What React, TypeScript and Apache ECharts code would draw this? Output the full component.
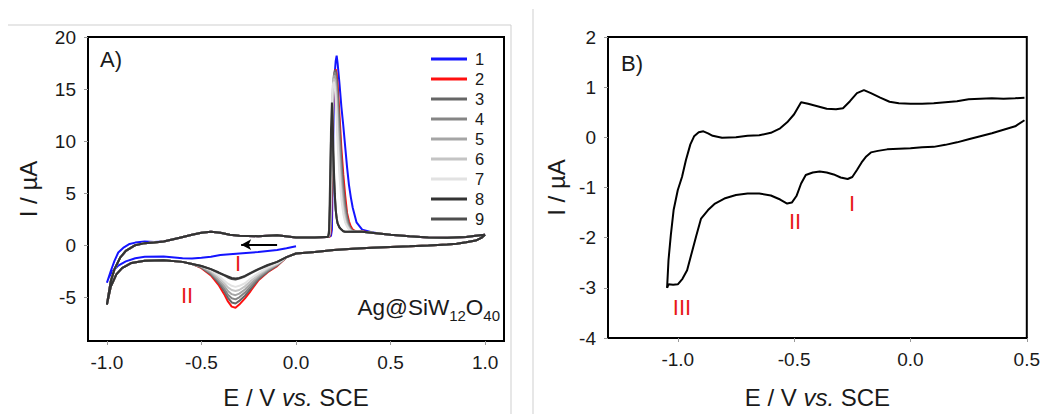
import React, { useEffect, useRef } from "react";
import * as echarts from "echarts";

const FONT = "'Liberation Sans', Arial, sans-serif";

// ---------- Panel A : cycles 1..9 ----------
const CYCLES = ["1", "2", "3", "4", "5", "6", "7", "8", "9"];
const CYCLE_COLORS = ["#1414ff", "#ff1010", "#666666", "#858585", "#a5a5a5", "#c4c4c4", "#e2e2e2", "#333333", "#4e4e4e"];

// common cathodic start (from +1.0 V going negative), cycles 2-9
const E_CATH_START = [1.0, 0.98, 0.95, 0.9, 0.85, 0.8, 0.7, 0.6, 0.5, 0.4, 0.3, 0.2, 0.1, 0.0, -0.05];
const I_CATH_START = [1.0, 0.7, 0.45, 0.28, 0.15, 0.07, -0.02, -0.1, -0.17, -0.25, -0.33, -0.45, -0.65, -0.8, -1.15];

// reduction peak region (cycle-dependent)
const E_RED = [-0.1, -0.15, -0.2, -0.24, -0.27, -0.3, -0.32, -0.34, -0.36, -0.38, -0.41, -0.45, -0.5];
const I_RED_2 = [-2.0, -2.6, -3.4, -4.4, -5.1, -5.7, -6.0, -5.9, -5.4, -4.7, -3.8, -2.9, -2.2];
const I_RED_3 = [-1.95, -2.55, -3.3, -4.2, -4.85, -5.35, -5.6, -5.5, -5.05, -4.4, -3.6, -2.8, -2.15];
const I_RED_4 = [-1.9, -2.45, -3.15, -3.95, -4.55, -5.0, -5.2, -5.1, -4.75, -4.15, -3.45, -2.7, -2.1];
const I_RED_5 = [-1.85, -2.35, -3.0, -3.7, -4.25, -4.65, -4.8, -4.7, -4.4, -3.9, -3.3, -2.6, -2.05];
const I_RED_6 = [-1.8, -2.25, -2.85, -3.45, -3.95, -4.3, -4.4, -4.3, -4.05, -3.65, -3.1, -2.5, -2.0];
const I_RED_7 = [-1.75, -2.15, -2.7, -3.2, -3.65, -3.9, -4.0, -3.9, -3.7, -3.4, -2.9, -2.4, -2.0];
const I_RED_8 = [-1.6, -1.9, -2.3, -2.65, -2.95, -3.15, -3.2, -3.15, -3.0, -2.85, -2.6, -2.3, -2.0];
const I_RED_9 = [-1.6, -1.95, -2.35, -2.7, -3.0, -3.2, -3.3, -3.25, -3.1, -2.9, -2.65, -2.3, -2.0];

// common cathodic end down to -1.0 V
const E_CATH_END = [-0.55, -0.6, -0.7, -0.8, -0.87, -0.92, -0.95, -0.98, -1.0];
const I_CATH_END = [-1.8, -1.6, -1.45, -1.5, -1.7, -2.2, -2.8, -4.0, -5.7];

// common anodic sweep from -1.0 V to the stripping region
const E_ANOD = [-1.0, -0.98, -0.96, -0.93, -0.9, -0.85, -0.8, -0.75, -0.7, -0.62, -0.55, -0.5, -0.45, -0.4, -0.35, -0.3, -0.2, -0.1, 0.0, 0.1, 0.16];
const I_ANOD = [-5.7, -3.5, -2.3, -1.2, -0.55, 0.0, 0.2, 0.25, 0.35, 0.7, 1.0, 1.2, 1.3, 1.2, 1.0, 0.9, 0.87, 0.95, 0.75, 0.75, 0.8];

// stripping peak region (cycle-dependent)
const E_STRIP = [0.17, 0.175, 0.18, 0.185, 0.19, 0.195, 0.2, 0.205, 0.21, 0.215, 0.22, 0.23, 0.24, 0.25, 0.26, 0.27, 0.28, 0.29, 0.3, 0.32, 0.35, 0.4];
const I_STRIP_1 = [0.8, 0.8, 0.85, 0.9, 1.5, 8.0, 14.0, 16.5, 17.7, 18.2, 17.5, 15.5, 13.3, 11.5, 9.5, 7.5, 5.8, 4.6, 3.6, 2.2, 1.5, 1.25];
const I_STRIP_2 = [0.8, 0.8, 0.9, 1.5, 6.0, 12.0, 15.5, 16.6, 16.9, 16.5, 15.5, 12.5, 9.3, 6.8, 4.8, 3.1, 2.3, 1.8, 1.5, 1.3, 1.35, 1.2];
const I_STRIP_3 = [0.8, 0.85, 1.0, 2.5, 8.0, 13.5, 16.0, 16.8, 16.7, 16.0, 14.8, 11.5, 8.3, 5.8, 4.0, 2.8, 2.0, 1.6, 1.4, 1.3, 1.3, 1.2];
const I_STRIP_4 = [0.8, 0.9, 1.2, 3.5, 9.5, 14.5, 16.3, 16.6, 16.2, 15.2, 13.5, 10.0, 7.0, 4.8, 3.3, 2.4, 1.8, 1.5, 1.35, 1.3, 1.3, 1.2];
const I_STRIP_5 = [0.8, 0.9, 1.4, 4.5, 11.0, 15.0, 16.2, 16.3, 15.6, 14.3, 12.3, 8.8, 6.0, 4.1, 2.9, 2.1, 1.7, 1.45, 1.35, 1.3, 1.3, 1.2];
const I_STRIP_6 = [0.8, 0.95, 1.6, 5.5, 12.0, 15.3, 16.0, 15.8, 14.8, 13.2, 11.0, 7.6, 5.1, 3.5, 2.5, 1.9, 1.6, 1.4, 1.3, 1.3, 1.3, 1.2];
const I_STRIP_7 = [0.8, 1.0, 1.9, 6.5, 13.0, 15.4, 15.7, 15.2, 14.0, 12.2, 9.8, 6.6, 4.4, 3.0, 2.2, 1.8, 1.5, 1.35, 1.3, 1.3, 1.3, 1.2];
const I_STRIP_8 = [0.8, 1.2, 4.0, 11.0, 13.7, 11.0, 7.5, 5.0, 3.4, 2.6, 2.1, 1.7, 1.5, 1.35, 1.3, 1.3, 1.3, 1.3, 1.3, 1.3, 1.3, 1.2];
const I_STRIP_9 = [0.8, 1.5, 6.0, 10.0, 11.5, 9.5, 6.8, 4.8, 3.4, 2.6, 2.1, 1.7, 1.5, 1.35, 1.3, 1.3, 1.3, 1.3, 1.3, 1.3, 1.3, 1.2];

// common anodic end up to +1.0 V
const E_ANOD_END = [0.45, 0.5, 0.6, 0.7, 0.8, 0.9, 0.95, 1.0];
const I_ANOD_END = [1.1, 1.0, 0.85, 0.75, 0.72, 0.8, 0.9, 1.0];

// cycle 1 (starts at 0.0 V, sweeps negative first)
const E1_CATH = [0.0, -0.05, -0.1, -0.2, -0.3, -0.4, -0.45, -0.5, -0.55, -0.6, -0.7, -0.8, -0.85, -0.9, -0.94, -0.97, -0.99, -1.0];
const I1_CATH = [-0.1, -0.3, -0.45, -0.65, -0.8, -0.95, -1.1, -1.2, -1.28, -1.25, -1.08, -1.1, -1.25, -1.55, -1.95, -2.5, -3.1, -3.6];
const E1_ANOD = [-1.0, -0.98, -0.96, -0.94, -0.91, -0.88, -0.85, -0.8, -0.75];
const I1_ANOD = [-3.6, -2.5, -1.5, -0.7, -0.2, 0.12, 0.25, 0.35, 0.3];

// sweep direction arrow (E, I)
const ARROW_FROM = [-0.1, 0.05];
const ARROW_TO = [-0.29, 0.05];

const RED_BY_CYCLE = [null, I_RED_2, I_RED_3, I_RED_4, I_RED_5, I_RED_6, I_RED_7, I_RED_8, I_RED_9];
const STRIP_BY_CYCLE = [I_STRIP_1, I_STRIP_2, I_STRIP_3, I_STRIP_4, I_STRIP_5, I_STRIP_6, I_STRIP_7, I_STRIP_8, I_STRIP_9];

// ---------- Panel B ----------
const B_E_ANOD = [-1.046, -1.04, -1.03, -1.018, -1.0, -0.982, -0.965, -0.946, -0.93, -0.91, -0.89, -0.87, -0.85, -0.81, -0.75, -0.7, -0.65, -0.6, -0.56, -0.53, -0.5, -0.47, -0.44, -0.4, -0.36, -0.32, -0.29, -0.26, -0.23, -0.2, -0.17, -0.13, -0.09, -0.05, 0.0, 0.05, 0.1, 0.15, 0.2, 0.25, 0.3, 0.35, 0.4, 0.45, 0.49];
const B_I_ANOD = [-3.0, -2.45, -1.95, -1.45, -1.05, -0.79, -0.45, -0.14, 0.02, 0.1, 0.12, 0.08, 0.03, -0.01, 0.0, 0.03, 0.04, 0.09, 0.18, 0.3, 0.46, 0.7, 0.67, 0.62, 0.57, 0.56, 0.58, 0.72, 0.88, 0.94, 0.88, 0.79, 0.71, 0.68, 0.67, 0.67, 0.68, 0.7, 0.72, 0.76, 0.77, 0.78, 0.77, 0.78, 0.79];
const B_E_CATH = [0.49, 0.45, 0.4, 0.35, 0.3, 0.25, 0.2, 0.15, 0.1, 0.05, 0.0, -0.05, -0.1, -0.14, -0.17, -0.19, -0.21, -0.23, -0.25, -0.27, -0.3, -0.33, -0.36, -0.39, -0.42, -0.45, -0.47, -0.49, -0.51, -0.53, -0.56, -0.6, -0.65, -0.7, -0.75, -0.8, -0.84, -0.87, -0.9, -0.92, -0.94, -0.96, -0.98, -1.0, -1.02, -1.04, -1.046];
const B_I_CATH = [0.34, 0.22, 0.15, 0.08, 0.02, -0.04, -0.1, -0.15, -0.19, -0.2, -0.22, -0.23, -0.24, -0.27, -0.3, -0.38, -0.5, -0.65, -0.79, -0.83, -0.8, -0.74, -0.7, -0.68, -0.7, -0.75, -0.92, -1.17, -1.3, -1.32, -1.24, -1.16, -1.12, -1.12, -1.15, -1.22, -1.32, -1.45, -1.62, -1.95, -2.3, -2.65, -2.82, -2.93, -2.94, -2.93, -3.0];

// tick labels
const A_X_TICKS = [-1.0, -0.5, 0.0, 0.5, 1.0];
const A_Y_TICKS = [-5, 0, 5, 10, 15, 20];
const B_X_TICKS = [-1.0, -0.5, 0.0, 0.5];
const B_Y_TICKS = [-4, -3, -2, -1, 0, 1, 2];

function zip(es: number[], is: number[]) {
  return es.map((e, k) => [e, is[k]]);
}

function cycleData(idx: number) {
  if (idx === 0) {
    return [
      ...zip(E1_CATH, I1_CATH),
      ...zip(E1_ANOD, I1_ANOD),
      ...zip(E_ANOD.slice(8), I_ANOD.slice(8)),
      ...zip(E_STRIP, STRIP_BY_CYCLE[0]),
      ...zip(E_ANOD_END, I_ANOD_END),
    ];
  }
  return [
    ...zip(E_CATH_START, I_CATH_START),
    ...zip(E_RED, RED_BY_CYCLE[idx] as number[]),
    ...zip(E_CATH_END, I_CATH_END),
    ...zip(E_ANOD, I_ANOD),
    ...zip(E_STRIP, STRIP_BY_CYCLE[idx]),
    ...zip(E_ANOD_END, I_ANOD_END),
  ];
}

const TXT = "#1a1a1a";
const TITLE_SIZE = 24;
const TICK_SIZE = 19;

function xAxisCfg(gridIndex: number, min: number, max: number, ticks: number[], gap: number) {
  return {
    type: "value",
    gridIndex,
    min,
    max,
    name: "{n|E / V }{i|vs.}{n| SCE}",
    nameLocation: "middle",
    nameGap: gap,
    nameTextStyle: {
      fontSize: TITLE_SIZE,
      fontFamily: FONT,
      color: TXT,
      rich: {
        n: { fontSize: TITLE_SIZE, fontFamily: FONT, color: TXT },
        i: { fontSize: TITLE_SIZE, fontFamily: FONT, color: TXT, fontStyle: "italic" },
      },
    },
    axisLine: { show: true, onZero: false, lineStyle: { color: "#000", width: 2 } },
    axisTick: { show: true, inside: false, length: 4, customValues: ticks, lineStyle: { color: "#999", width: 1 } },
    axisLabel: {
      customValues: ticks,
      formatter: (v: number) => v.toFixed(1),
      fontSize: TICK_SIZE,
      fontFamily: FONT,
      color: TXT,
      margin: 12,
    },
    splitLine: { show: false },
  };
}

function yAxisCfg(gridIndex: number, min: number, max: number, ticks: number[], gap: number) {
  return {
    type: "value",
    gridIndex,
    min,
    max,
    name: "I / µA",
    nameLocation: "middle",
    nameGap: gap,
    nameTextStyle: { fontSize: TITLE_SIZE, fontFamily: FONT, color: TXT },
    axisLine: { show: true, onZero: false, lineStyle: { color: "#000", width: 2 } },
    axisTick: { show: true, inside: false, length: 4, customValues: ticks, lineStyle: { color: "#999", width: 1 } },
    axisLabel: {
      customValues: ticks,
      formatter: (v: number) => String(Math.round(v)),
      fontSize: TICK_SIZE,
      fontFamily: FONT,
      color: TXT,
      margin: 12,
    },
    splitLine: { show: false },
  };
}

// blue first (underneath), then red, greys, dark greys on top
const DRAW_ORDER = [0, 1, 2, 3, 4, 5, 6, 8, 7];

export default function App() {
  const ref = useRef<HTMLDivElement>(null);
  useEffect(() => {
    if (!ref.current) return;
    const chart = echarts.init(ref.current, undefined, { renderer: "svg" });

    const seriesA: any[] = DRAW_ORDER.map((idx) => ({
      name: CYCLES[idx],
      type: "line",
      xAxisIndex: 0,
      yAxisIndex: 0,
      data: cycleData(idx),
      showSymbol: false,
      symbol: "none",
      color: CYCLE_COLORS[idx],
      lineStyle: { color: CYCLE_COLORS[idx], width: 2 },
      z: 2,
      ...(idx === 0
        ? {
            markLine: {
              silent: true,
              symbol: ["none", "arrow"],
              symbolSize: [8, 10],
              label: { show: false },
              lineStyle: { color: "#000", width: 2, type: "solid" },
              data: [[{ coord: ARROW_FROM }, { coord: ARROW_TO }]],
            },
          }
        : {}),
    }));

    const bLine = (name: string, data: number[][]) => ({
      name,
      type: "line",
      xAxisIndex: 1,
      yAxisIndex: 1,
      data,
      showSymbol: false,
      symbol: "none",
      lineStyle: { color: "#000", width: 2 },
      color: "#000",
    });

    const redText = (x: number, y: number, t: string) => ({
      type: "text",
      x,
      y,
      style: { text: t, fontSize: 22, fontFamily: FONT, fill: "#e81818", align: "center", verticalAlign: "middle" },
    });

    chart.setOption({
      animation: false,
      backgroundColor: "#fff",
      grid: [
        { left: 88, top: 37, width: 416, height: 304, show: true, borderColor: "#000", borderWidth: 2, backgroundColor: "transparent" },
        { left: 608, top: 37, width: 419, height: 307, show: true, borderColor: "#000", borderWidth: 2, backgroundColor: "transparent" },
      ],
      xAxis: [xAxisCfg(0, -1.1, 1.1, A_X_TICKS, 44), xAxisCfg(1, -1.3, 0.5, B_X_TICKS, 47)],
      yAxis: [yAxisCfg(0, -9.2, 20, A_Y_TICKS, 48), yAxisCfg(1, -4, 2, B_Y_TICKS, 40)],
      legend: {
        data: CYCLES,
        orient: "vertical",
        left: 431,
        top: 49,
        padding: 0,
        icon: "rect",
        itemWidth: 36,
        itemHeight: 3,
        itemGap: 0,
        selectedMode: false,
        textStyle: { fontSize: 16.5, fontFamily: FONT, color: TXT, lineHeight: 20, padding: [0, 0, 0, 3] },
      },
      graphic: [
        { type: "line", shape: { x1: 8, y1: 25, x2: 511, y2: 25 }, style: { stroke: "#cfcfcf", lineWidth: 1 } },
        { type: "line", shape: { x1: 511, y1: 25, x2: 511, y2: 414 }, style: { stroke: "#cfcfcf", lineWidth: 1 } },
        { type: "line", shape: { x1: 533, y1: 9, x2: 533, y2: 414 }, style: { stroke: "#cfcfcf", lineWidth: 1 } },
        { type: "text", x: 100, y: 59, style: { text: "A)", fontSize: 22, fontFamily: FONT, fill: TXT, verticalAlign: "middle" } },
        { type: "text", x: 621, y: 63, style: { text: "B)", fontSize: 22, fontFamily: FONT, fill: TXT, verticalAlign: "middle" } },
        {
          type: "text",
          x: 500,
          y: 319,
          style: {
            text: "{n|Ag@SiW}{s|12}{n|O}{s|40}",
            align: "right",
            verticalAlign: "bottom",
            rich: {
              n: { fontSize: 22.5, fontFamily: FONT, fill: TXT, verticalAlign: "bottom" },
              s: { fontSize: 15, fontFamily: FONT, fill: TXT, verticalAlign: "bottom", padding: [0, 0, -4, 0] },
            },
          },
        },
        redText(238, 263, "I"),
        redText(187, 295, "II"),
        redText(682, 307, "III"),
        redText(795, 221, "II"),
        redText(852, 203, "I"),
      ],
      series: [
        ...seriesA,
        bLine("B-anodic", zip(B_E_ANOD, B_I_ANOD)),
        bLine("B-cathodic", zip(B_E_CATH, B_I_CATH)),
      ],
    });
    return () => chart.dispose();
  }, []);
  return <div ref={ref} style={{ position: "fixed", left: 0, top: 0, width: 1043, height: 414 }} />;
}
